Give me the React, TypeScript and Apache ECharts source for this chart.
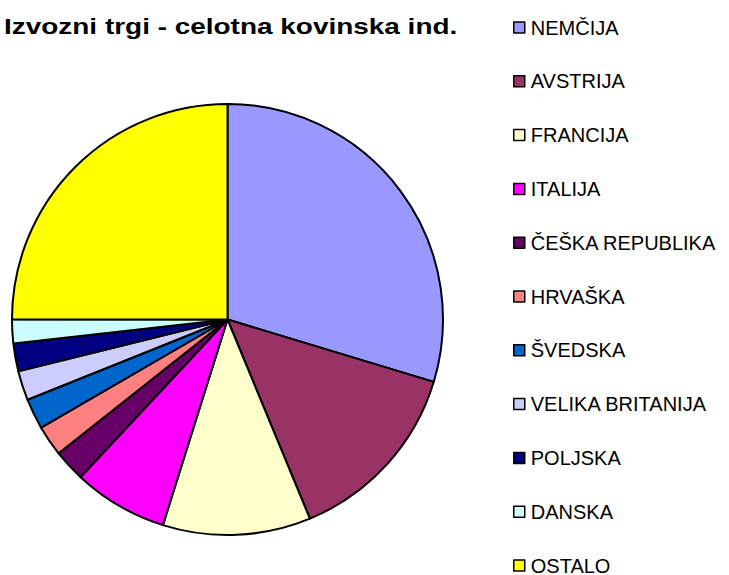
import React, { useEffect, useRef } from "react";
import * as echarts from "echarts";

const titleText = "Izvozni trgi - celotna kovinska ind.";
const countries = [
  "NEMČIJA",
  "AVSTRIJA",
  "FRANCIJA",
  "ITALIJA",
  "ČEŠKA REPUBLIKA",
  "HRVAŠKA",
  "ŠVEDSKA",
  "VELIKA BRITANIJA",
  "POLJSKA",
  "DANSKA",
  "OSTALO",
];
const shares = [29.7, 14.1, 11.1, 7.1, 2.4, 2.3, 2.3, 2.2, 2.1, 1.8, 25.0];
const colors = [
  "#9999FF",
  "#993366",
  "#FFFFCC",
  "#FF00FF",
  "#660066",
  "#FF8080",
  "#0066CC",
  "#CCCCFF",
  "#000080",
  "#CCFFFF",
  "#FFFF00",
];

export default function App() {
  const ref = useRef<HTMLDivElement>(null);
  useEffect(() => {
    if (!ref.current) return;
    const chart = echarts.init(ref.current, null, { renderer: "svg" });
    chart.setOption({
      animation: false,
      backgroundColor: "#ffffff",
      color: colors,
      graphic: [
        {
          type: "text",
          left: 4,
          top: 15,
          scaleX: 1.3,
          scaleY: 1.03,
          style: {
            text: titleText,
            font: "bold 21.5px 'Liberation Sans', Arial, sans-serif",
            fill: "#000",
          },
        },
      ],
      legend: {
        orient: "vertical",
        left: 513,
        top: 17.5,
        height: 800,
        padding: 0,
        itemWidth: 11,
        itemHeight: 11,
        itemGap: 33.8,
        icon: "rect",
        itemStyle: { borderColor: "#000", borderWidth: 1.5 },
        textStyle: {
          fontFamily: "'Liberation Sans', Arial, sans-serif",
          fontSize: 20,
          lineHeight: 20,
          color: "#000",
          padding: [0, 0, 0, 1],
        },
        data: countries,
      },
      series: [
        {
          type: "pie",
          center: [227.5, 319.5],
          radius: [0, 215.5],
          startAngle: 90,
          clockwise: true,
          label: { show: false },
          labelLine: { show: false },
          emphasis: { disabled: true },
          itemStyle: { borderColor: "#000", borderWidth: 2 },
          data: countries.map((name, i) => ({ name, value: shares[i] })),
        },
      ],
    });
    return () => chart.dispose();
  }, []);
  return <div ref={ref} style={{ width: 729, height: 575, position: "absolute", left: 0, top: 0 }} />;
}
